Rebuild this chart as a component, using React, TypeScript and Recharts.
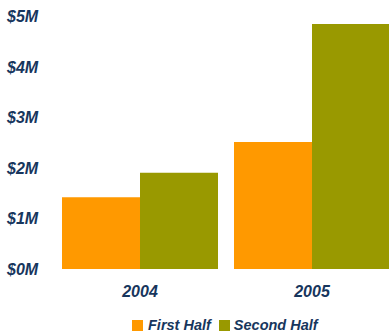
import React from 'react';
import { BarChart, Bar, XAxis, YAxis, Legend } from 'recharts';

const years = ['2004', '2005'];
const firstHalf = [1.42, 2.51];
const secondHalf = [1.9, 4.84];
const yTicks = [0, 1, 2, 3, 4, 5];

const seriesNames = ['First Half', 'Second Half'];
const seriesColors = ['#FF9900', '#999900'];

const textColor = '#17365D';
const font = '"Liberation Sans", Arial, sans-serif';

const data = years.map((year, i) => ({
  year,
  first: firstHalf[i],
  second: secondHalf[i],
}));

const YTick = ({ y, payload }: any) => (
  <text x={7} y={y} dy={6} textAnchor="start" fill={textColor}
    fontFamily={font} fontSize={16} fontWeight="bold" fontStyle="italic">
    {`$${payload.value}M`}
  </text>
);

const XTick = ({ x, y, payload }: any) => (
  <text x={x} y={y} dy={20} textAnchor="middle" fill={textColor}
    fontFamily={font} fontSize={16} fontWeight="bold" fontStyle="italic">
    {payload.value}
  </text>
);

const LegendContent = () => (
  <div style={{ display: 'flex', alignItems: 'center', paddingLeft: 132, paddingTop: 15, height: 14 }}>
    {seriesNames.map((name, i) => (
      <div key={name} style={{ display: 'flex', alignItems: 'center', marginRight: 8 }}>
        <div style={{ width: 11, height: 11, background: seriesColors[i], marginRight: i === 0 ? 5 : 4 }} />
        <span style={{ fontFamily: font, fontSize: 14.5, fontWeight: 'bold', fontStyle: 'italic', color: textColor, lineHeight: '14px' }}>
          {name}
        </span>
      </div>
    ))}
  </div>
);

export default function App() {
  return (
    <div style={{ position: 'fixed', left: 0, top: 0, width: 389, height: 333, overflow: 'hidden', background: '#fff' }}>
      <BarChart width={398} height={333} data={data} barGap={0} barCategoryGap={8}
        margin={{ top: 16, right: 0, left: 0, bottom: 0 }}>
        <YAxis width={54} domain={[0, 5]} ticks={yTicks} axisLine={false} tickLine={false}
          tick={<YTick />} interval={0} />
        <XAxis dataKey="year" height={34} axisLine={false} tickLine={false} tick={<XTick />} />
        <Legend verticalAlign="bottom" height={30} content={<LegendContent />} />
        <Bar dataKey="first" name={seriesNames[0]} fill={seriesColors[0]} isAnimationActive={false} />
        <Bar dataKey="second" name={seriesNames[1]} fill={seriesColors[1]} isAnimationActive={false} />
      </BarChart>
    </div>
  );
}
